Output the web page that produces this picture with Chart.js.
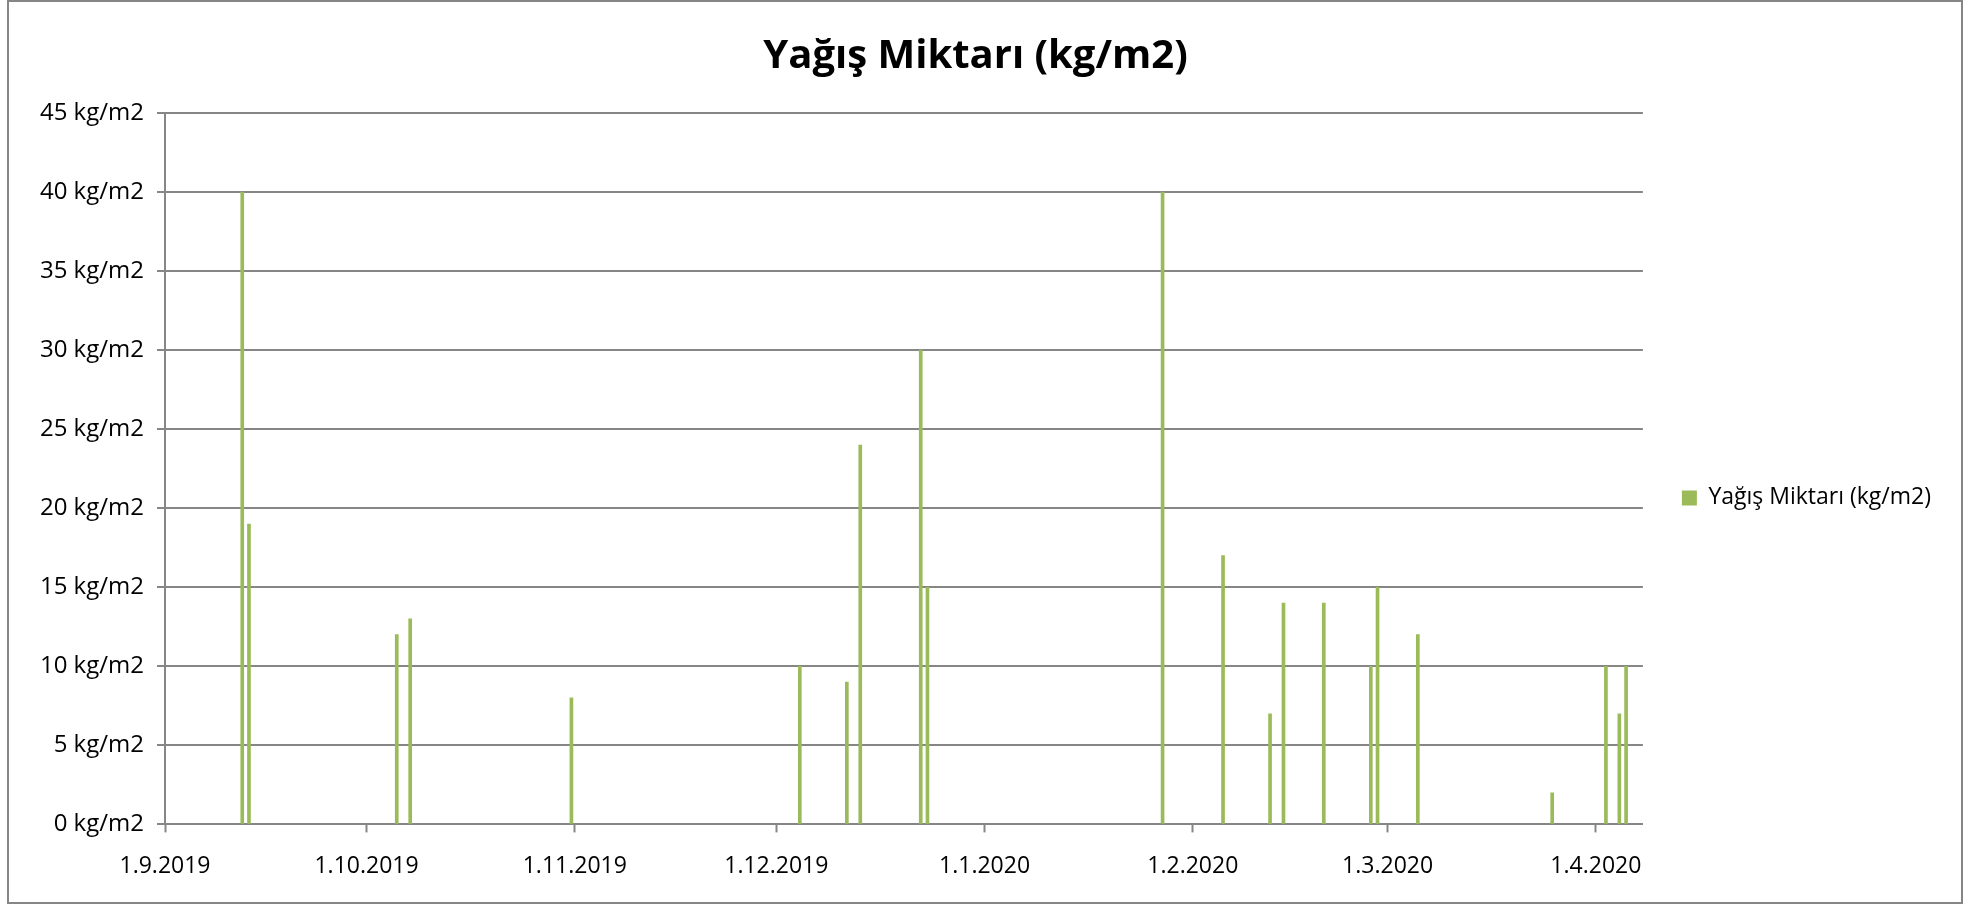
<!DOCTYPE html>
<html>
<head>
<meta charset="utf-8">
<title>Yağış Miktarı (kg/m2)</title>
<script src="https://cdn.jsdelivr.net/npm/chart.js@4.4.1/dist/chart.umd.min.js"></script>
<style>
  html, body { margin: 0; padding: 0; background: #fff; }
  #frame {
    position: absolute; left: 7px; top: 0px;
    width: 1952px; height: 900px;
    border: 2px solid #868686;
  }
  #graph { position: absolute; left: 1px; top: 1px; }
</style>
</head>
<body>
<div id="frame"><canvas id="graph" width="1950" height="898"></canvas></div>
<script>
/*********************** data ***********************/
const seriesName = 'Yağış Miktarı (kg/m2)';

// rainy days and the amount that fell
const rainDates = [
  '2019-09-12', '2019-09-13', '2019-10-05', '2019-10-07', '2019-10-31',
  '2019-12-04', '2019-12-11', '2019-12-13', '2019-12-22', '2019-12-23',
  '2020-01-27', '2020-02-05', '2020-02-12', '2020-02-14', '2020-02-20',
  '2020-02-27', '2020-02-28', '2020-03-05', '2020-03-25', '2020-04-02',
  '2020-04-04', '2020-04-05'
];
const rainValues = [40, 19, 12, 13, 8, 10, 9, 24, 30, 15, 40, 17, 7, 14, 14, 10, 15, 12, 2, 10, 7, 10];

// date axis
const axisStart = '2019-09-01';
const axisEnd = '2020-04-08';
const tickDates = ['2019-09-01', '2019-10-01', '2019-11-01', '2019-12-01',
                   '2020-01-01', '2020-02-01', '2020-03-01', '2020-04-01'];
const tickLabels = ['1.9.2019', '1.10.2019', '1.11.2019', '1.12.2019',
                    '1.1.2020', '1.2.2020', '1.3.2020', '1.4.2020'];
const yTicks = [0, 5, 10, 15, 20, 25, 30, 35, 40, 45];

/******************* helpers *******************/
const DAY = 86400000;
const dayIndex = (d) => Math.round((Date.parse(d) - Date.parse(axisStart)) / DAY);
const tickDays = tickDates.map(dayIndex);

// each day is one slot on the axis, the bar sits in the middle of it
const points = rainDates.map((d, i) => ({ x: dayIndex(d) + 0.5, y: rainValues[i] }));

/******************* chart *******************/
Chart.defaults.font.family = "'Open Sans', 'Noto Sans', sans-serif";
Chart.defaults.color = '#000';

const gridGrey = '#868686';
let ctx = document.getElementById('graph');
const graph = new Chart(ctx, {
  type: 'bar',
  data: {
    datasets: [{
      label: seriesName,
      data: points,
      backgroundColor: '#9BBB59',
      borderWidth: 0,
      barThickness: 3
    }]
  },
  options: {
    responsive: false,
    animation: false,
    layout: { padding: { top: 0, right: 19, bottom: 1, left: 0 } },
    plugins: {
      title: {
        display: true,
        text: seriesName,
        font: { size: 40, weight: 'bold' },
        padding: { top: 30, bottom: 32 }
      },
      legend: {
        position: 'right',
        fullSize: false,
        title: { display: true, text: '', padding: { top: 44, bottom: 0 } },
        labels: {
          boxWidth: 15,
          boxHeight: 15,
          padding: 39,
          font: { size: 23 }
        }
      },
      tooltip: { enabled: false }
    },
    scales: {
      x: {
        type: 'linear',
        offset: false,
        min: 0,
        max: dayIndex(axisEnd),
        afterBuildTicks: (scale) => { scale.ticks = tickDays.map(v => ({ value: v })); },
        ticks: {
          autoSkip: false,
          maxRotation: 0,
          padding: 20,
          font: { size: 23 },
          callback: (value) => tickLabels[tickDays.indexOf(value)]
        },
        grid: {
          offset: false,
          drawOnChartArea: false,
          drawTicks: true,
          tickLength: 8,
          tickWidth: 2,
          tickColor: gridGrey
        },
        border: { color: gridGrey, width: 2 }
      },
      y: {
        min: 0,
        max: 45,
        afterBuildTicks: (scale) => { scale.ticks = yTicks.map(v => ({ value: v })); },
        afterFit: (scale) => { scale.width = 155; },
        ticks: {
          padding: 13,
          font: { size: 24 },
          callback: (value) => value + ' kg/m2'
        },
        grid: {
          color: gridGrey,
          lineWidth: 2,
          drawTicks: true,
          tickLength: 8
        },
        border: { color: gridGrey, width: 2 }
      }
    }
  }
});
</script>
</body>
</html>
